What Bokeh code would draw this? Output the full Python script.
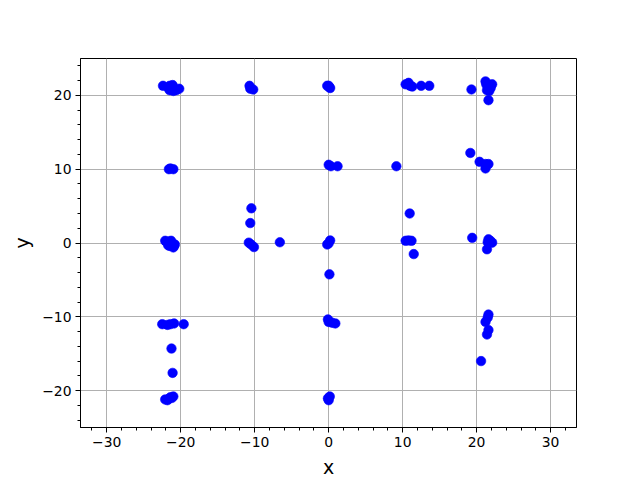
from bokeh.plotting import figure
from bokeh.models import SingleIntervalTicker, CustomJSTickFormatter, Range1d
from bokeh.embed import file_html
from bokeh.resources import INLINE

xs = [-22.4, -21.5, -21.1, -21.6, -20.8, -20.2, -21.2, -21.0, -20.6, -21.5,
      -10.7, -10.6, -10.2,
      -0.2, 0.1, 0.0, 0.2,
      10.4, 10.8, 11.3, 11.0, 12.5, 13.6,
      19.3, 21.2, 21.8, 21.4, 22.1, 21.6, 21.6, 21.3, 21.9, 21.5, 21.7,
      -21.4, -21.0, -21.6, 0.0, 0.3, 1.2, 9.15, 19.15, 20.4, 21.2, 21.6, 21.2,
      -22.1, -21.6, -21.2, -20.8, -21.5, -20.9, -21.7, -21.3, -21.0,
      -10.45, -10.6, -10.8, -10.1, -10.5, -6.6,
      0.0, 0.2, 0.1, -0.2,
      10.95, 10.8, 10.4, 11.2, 11.5,
      19.4, 21.6, 22.1, 21.4, 21.85, 21.5,
      -22.5, -21.8, -21.4, -20.9, -19.6, -21.25, -21.1,
      -0.1, 0.0, 0.45, 0.9,
      21.6, 21.5, 21.2, 21.6, 21.4, 20.6,
      -22.1, -21.6, -21.2, -21.4, -21.8, -21.0, -0.1, 0.0, 0.15]
ys = [21.3, 21.3, 21.4, 20.9, 20.8, 20.9, 21.0, 20.6, 20.7, 20.7,
      21.3, 20.9, 20.8,
      21.3, 21.1, 21.3, 21.0,
      21.5, 21.7, 21.2, 21.3, 21.3, 21.3,
      20.8, 21.9, 21.4, 20.7, 21.5, 20.9, 19.35, 21.5, 21.0, 21.2, 20.6,
      10.1, 10.0, 10.0, 10.6, 10.4, 10.4, 10.4, 12.2, 11.0, 10.7, 10.7, 10.1,
      0.3, 0.2, 0.0, -0.2, -0.4, -0.4, -0.3, 0.3, -0.6,
      4.7, 2.7, 0.05, -0.55, -0.2, 0.1,
      -0.05, 0.35, -4.25, -0.2,
      4.0, 0.35, 0.3, 0.3, -1.5,
      0.7, 0.5, 0.05, -0.85, 0.3, 0.1,
      -11.0, -11.1, -11.0, -10.9, -11.0, -14.3, -17.6,
      -10.35, -10.7, -10.8, -10.9,
      -9.7, -10.1, -10.7, -11.8, -12.4, -16.0,
      -21.2, -21.1, -21.0, -20.9, -21.3, -20.8, -21.05, -21.3, -20.8]

x_label = "x"
y_label = "y"

p = figure(frame_width=496, frame_height=369,
           min_border_left=80, min_border_right=64,
           min_border_top=58, min_border_bottom=53,
           x_range=Range1d(-33.55, 33.5), y_range=Range1d(-25, 25),
           output_backend="svg", toolbar_location=None,
           background_fill_color="white", border_fill_color="white")

p.scatter(xs, ys, size=9.5, fill_color="#0000ff", line_color="#0000ff", line_width=0.6)

fmt = CustomJSTickFormatter(code="return tick < 0 ? '\\u2212' + Math.abs(tick) : tick.toString();")

for ax, lab in ((p.xaxis[0], x_label), (p.yaxis[0], y_label)):
    ax.ticker = SingleIntervalTicker(interval=10, num_minor_ticks=5)
    ax.formatter = fmt
    ax.axis_label = lab
    ax.axis_label_text_font = "DejaVu Sans"
    ax.axis_label_text_font_size = "19px"
    ax.axis_label_text_font_style = "normal"
    ax.axis_label_text_color = "black"
    ax.major_label_text_font = "DejaVu Sans"
    ax.major_label_text_font_size = "13.9px"
    ax.major_label_text_color = "black"
    ax.major_tick_in = 0
    ax.major_tick_out = 5
    ax.minor_tick_in = 0
    ax.minor_tick_out = 3
    ax.major_tick_line_color = "black"
    ax.minor_tick_line_color = "black"
    ax.axis_line_color = "black"
    ax.axis_label_standoff = 6
    ax.major_label_standoff = 4

p.xgrid.ticker = SingleIntervalTicker(interval=10)
p.ygrid.ticker = SingleIntervalTicker(interval=10)
p.grid.grid_line_color = "#b0b0b0"
p.grid.grid_line_width = 1
p.outline_line_color = "black"
p.outline_line_width = 1
p.outline_line_alpha = 1

open("out.html", "w").write(file_html(p, INLINE))
